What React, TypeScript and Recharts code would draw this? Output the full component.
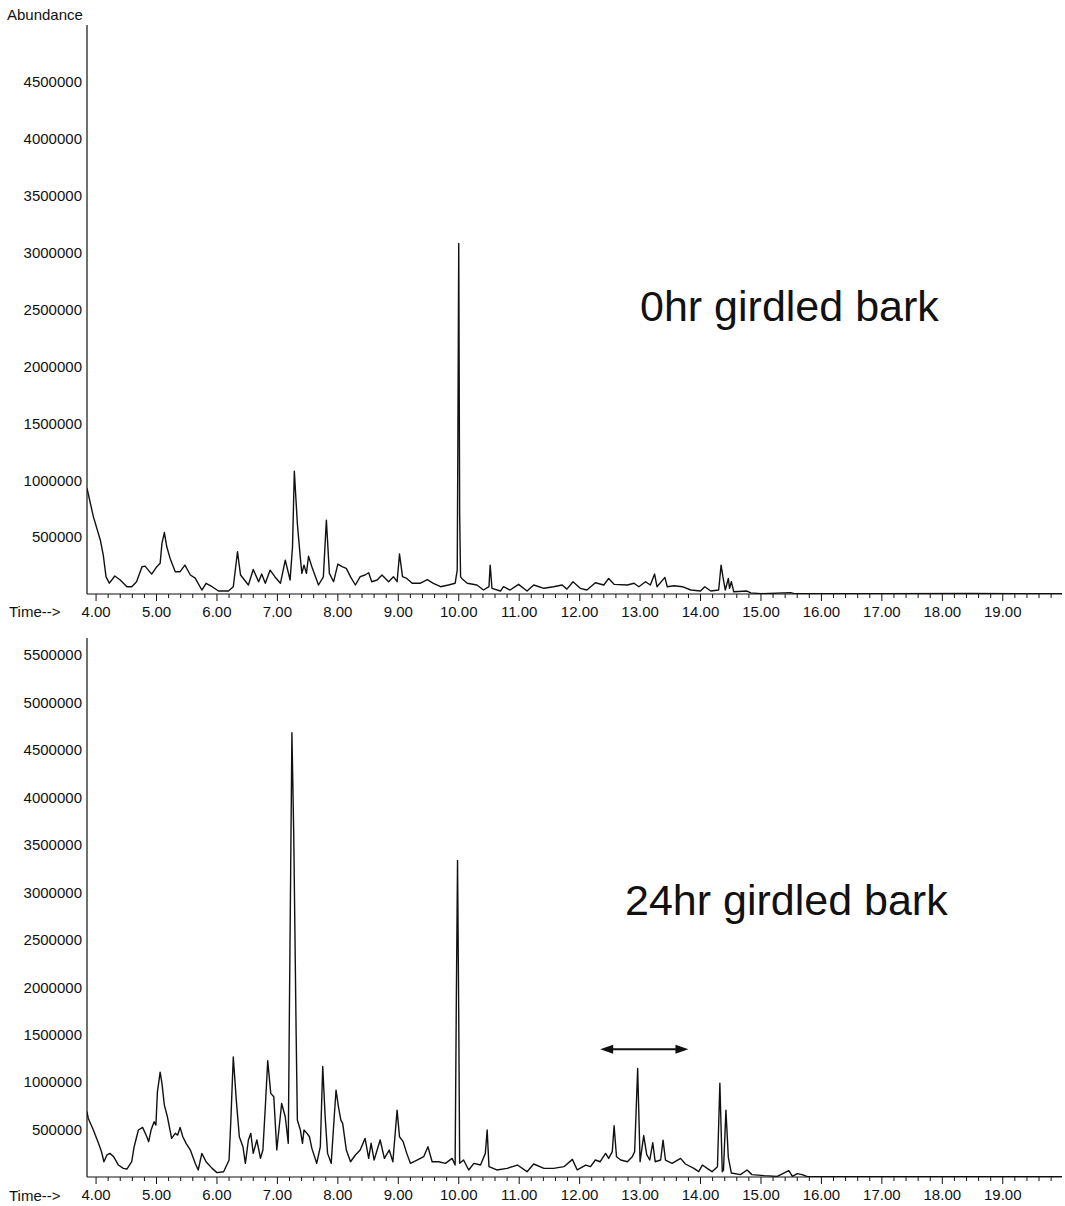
import React from "react";
import { LineChart, Line, XAxis, YAxis, ReferenceLine } from "recharts";

const FONT = '"Liberation Sans", Arial, Helvetica, sans-serif';
const INK = "#111";

// retention time axis
const TIME_DOMAIN: [number, number] = [3.85, 19.98];
const TIME_MAJOR = [4, 5, 6, 7, 8, 9, 10, 11, 12, 13, 14, 15, 16, 17, 18, 19];

// 0hr girdled bark (top panel)
const time0hr = [
  3.85, 3.955, 4.07, 4.12, 4.165, 4.22, 4.31, 4.4, 4.51, 4.59, 4.67, 4.76, 4.81, 4.92, 5.005, 5.06,
  5.09, 5.13, 5.17, 5.225, 5.31, 5.39, 5.47, 5.56, 5.64, 5.75, 5.82, 5.92, 6.025, 6.19, 6.27, 6.34,
  6.39, 6.52, 6.6, 6.69, 6.74, 6.8, 6.88, 6.96, 7.05, 7.13, 7.21, 7.25, 7.28, 7.33, 7.38, 7.405,
  7.44, 7.48, 7.515, 7.57, 7.68, 7.76, 7.81, 7.86, 7.93, 8.0, 8.07, 8.14, 8.21, 8.29, 8.37, 8.45,
  8.51, 8.56, 8.65, 8.73, 8.84, 8.92, 8.98, 9.02, 9.07, 9.14, 9.23, 9.36, 9.48, 9.58, 9.7, 9.83,
  9.94, 9.975, 9.985, 10.0, 10.015, 10.03, 10.05, 10.14, 10.3, 10.41, 10.5, 10.52, 10.55, 10.69,
  10.74, 10.85, 10.99, 11.13, 11.24, 11.41, 11.57, 11.71, 11.79, 11.89, 12.01, 12.12, 12.26, 12.4,
  12.48, 12.57, 12.79, 12.9, 12.98, 13.09, 13.17, 13.24, 13.28, 13.41, 13.45, 13.56, 13.7, 13.84,
  14.0, 14.07, 14.17, 14.3, 14.34, 14.37, 14.41, 14.46, 14.48, 14.51, 14.55, 14.77, 14.83, 15.0,
  15.49, 15.55, 17.0, 18.45, 19.98,
];
const abund0hr = [
  930000, 680000, 475000, 340000, 150000, 95000, 158000, 123000, 64000, 64000, 108000, 240000,
  245000, 175000, 240000, 270000, 445000, 540000, 415000, 313000, 196000, 196000, 254000, 167000,
  140000, 35000, 94000, 64000, 26000, 26000, 64000, 371000, 167000, 79000, 216000, 108000, 175000,
  94000, 210000, 150000, 94000, 298000, 123000, 415000, 1078000, 620000, 313000, 181000, 254000,
  181000, 333000, 240000, 79000, 150000, 649000, 181000, 108000, 263000, 240000, 225000, 150000,
  79000, 152000, 167000, 187000, 108000, 123000, 167000, 108000, 152000, 108000, 351000, 152000,
  137000, 94000, 94000, 126000, 94000, 64000, 79000, 94000, 210000, 1290000, 3080000, 700000,
  152000, 137000, 94000, 79000, 35000, 64000, 254000, 50000, 26000, 64000, 35000, 85000, 26000,
  79000, 50000, 64000, 79000, 43000, 108000, 50000, 35000, 99000, 79000, 137000, 85000, 79000,
  94000, 64000, 108000, 79000, 175000, 64000, 146000, 64000, 73000, 64000, 35000, 26000, 64000,
  26000, 35000, 254000, 152000, 35000, 137000, 50000, 108000, 20000, 26000, 10000, 3000, 12000,
  3000, 2000, 4000, 2000,
];

// 24hr girdled bark (bottom panel)
const time24hr = [
  3.85, 3.87, 3.955, 4.04, 4.09, 4.13, 4.18, 4.23, 4.29, 4.37, 4.45, 4.51, 4.59, 4.63, 4.7, 4.77,
  4.84, 4.87, 4.91, 4.96, 4.99, 5.015, 5.06, 5.09, 5.13, 5.18, 5.25, 5.31, 5.35, 5.39, 5.435, 5.49,
  5.56, 5.64, 5.69, 5.75, 5.82, 5.92, 6.0, 6.11, 6.17, 6.2, 6.23, 6.27, 6.32, 6.37, 6.43, 6.47,
  6.52, 6.56, 6.6, 6.66, 6.72, 6.76, 6.8, 6.84, 6.89, 6.94, 6.99, 7.07, 7.13, 7.18, 7.2, 7.22,
  7.24, 7.27, 7.29, 7.31, 7.33, 7.38, 7.415, 7.44, 7.49, 7.53, 7.57, 7.65, 7.71, 7.75, 7.79, 7.83,
  7.89, 7.94, 7.97, 8.01, 8.05, 8.08, 8.14, 8.21, 8.29, 8.37, 8.45, 8.51, 8.55, 8.6, 8.7, 8.77,
  8.85, 8.91, 8.98, 9.02, 9.08, 9.14, 9.2, 9.31, 9.42, 9.49, 9.56, 9.67, 9.78, 9.89, 9.94, 9.96,
  9.98, 10.0, 10.015, 10.08, 10.165, 10.25, 10.36, 10.44, 10.47, 10.5, 10.63, 10.8, 10.97, 11.13,
  11.24, 11.41, 11.57, 11.74, 11.88, 11.96, 12.1, 12.18, 12.26, 12.34, 12.43, 12.48, 12.54, 12.57,
  12.61, 12.68, 12.79, 12.87, 12.91, 12.96, 13.0, 13.06, 13.11, 13.16, 13.21, 13.25, 13.34, 13.38,
  13.42, 13.53, 13.67, 13.75, 13.89, 13.97, 14.03, 14.11, 14.19, 14.28, 14.32, 14.36, 14.38, 14.42,
  14.46, 14.51, 14.66, 14.77, 14.85, 15.05, 15.27, 15.46, 15.52, 15.6, 15.68, 15.77, 16.5, 18.0,
  19.98,
];
const abund24hr = [
  690000, 620000, 495000, 355000, 266000, 161000, 232000, 249000, 214000, 126000, 91000, 84000,
  161000, 319000, 495000, 523000, 424000, 372000, 495000, 582000, 547000, 898000, 1105000, 986000,
  758000, 635000, 407000, 460000, 442000, 523000, 424000, 355000, 284000, 144000, 74000, 249000,
  161000, 91000, 46000, 56000, 137000, 179000, 600000, 1265000, 810000, 424000, 319000, 144000,
  390000, 460000, 249000, 390000, 196000, 284000, 740000, 1225000, 881000, 846000, 284000, 775000,
  635000, 355000, 1863000, 3266000, 4681000, 3618000, 2565000, 1513000, 600000, 495000, 355000,
  495000, 460000, 424000, 302000, 144000, 319000, 1165000, 635000, 249000, 144000, 635000, 916000,
  740000, 600000, 565000, 284000, 161000, 232000, 284000, 407000, 196000, 355000, 179000, 390000,
  196000, 284000, 161000, 705000, 424000, 372000, 249000, 144000, 179000, 214000, 319000, 161000,
  161000, 144000, 196000, 126000, 1863000, 3337000, 1688000, 144000, 179000, 74000, 144000, 126000,
  249000, 495000, 109000, 74000, 91000, 126000, 56000, 137000, 91000, 91000, 109000, 186000, 74000,
  126000, 109000, 179000, 161000, 249000, 196000, 267000, 540000, 214000, 179000, 161000, 214000,
  267000, 1144000, 161000, 437000, 235000, 179000, 361000, 161000, 179000, 389000, 179000, 144000,
  196000, 137000, 91000, 56000, 126000, 91000, 56000, 109000, 988000, 56000, 74000, 705000, 206000,
  42000, 25000, 74000, 25000, 14000, 7000, 67000, 7000, 35000, 25000, 3000, 4000, 2000, 2000,
];

const yTicks0hr = [500000, 1000000, 1500000, 2000000, 2500000, 3000000, 3500000, 4000000, 4500000];
const yTicks24hr = [
  500000, 1000000, 1500000, 2000000, 2500000, 3000000, 3500000, 4000000, 4500000, 5000000, 5500000,
];
const yMax0hr = 5000000;
const yMax24hr = 5680000;

const panelTitles = ["0hr girdled bark", "24hr girdled bark"];

// double arrow marking a region in the 24hr trace
const arrowTimes = [12.34, 13.8];
const arrowLevel = 1347000;

// minor ticks every 0.2 min
const minorTicks: number[] = [];
TIME_MAJOR.forEach((m) => {
  [0, 0.2, 0.4, 0.6, 0.8].forEach((d) => minorTicks.push(Math.round((m + d) * 10) / 10));
});
const allTicks = [3.8, ...minorTicks].filter((t) => t >= TIME_DOMAIN[0] && t <= TIME_DOMAIN[1]);

const toRows = (times: number[], values: number[]) =>
  times.map((t, i) => ({ time: t, abundance: values[i] }));

const TimeTick = (props: any) => {
  const { x, y, payload } = props;
  const v = payload.value as number;
  const major = Math.abs(v - Math.round(v)) < 1e-6;
  return (
    <g>
      <line x1={x} y1={y} x2={x} y2={y + (major ? 7 : 4)} stroke={INK} strokeWidth={1} />
      {major && (
        <text x={x} y={y + 23} textAnchor="middle" fontSize={15} fontFamily={FONT} fill={INK}>
          {v.toFixed(2)}
        </text>
      )}
    </g>
  );
};

const DoubleArrow = (props: any) => {
  const { x1, y1, x2, y2 } = props;
  const head = 13;
  const half = 4.5;
  return (
    <g>
      <line x1={x1 + head - 2} y1={y1} x2={x2 - head + 2} y2={y2} stroke={INK} strokeWidth={2} />
      <polygon points={`${x1},${y1} ${x1 + head},${y1 - half} ${x1 + head},${y1 + half}`} fill={INK} />
      <polygon points={`${x2},${y2} ${x2 - head},${y2 - half} ${x2 - head},${y2 + half}`} fill={INK} />
    </g>
  );
};

interface PanelProps {
  rows: { time: number; abundance: number }[];
  yTicks: number[];
  yMax: number;
  height: number;
  top: number;
  xAxisHeight: number;
  children?: React.ReactNode;
}

const Panel: React.FC<PanelProps> = ({ rows, yTicks, yMax, height, top, xAxisHeight, children }) => (
  <LineChart
    width={1065}
    height={height}
    data={rows}
    margin={{ top, right: 3, left: 7, bottom: 0 }}
  >
    <XAxis
      dataKey="time"
      type="number"
      domain={TIME_DOMAIN}
      ticks={allTicks}
      interval={0}
      tickLine={false}
      tickSize={0}
      tickMargin={0}
      height={xAxisHeight}
      axisLine={{ stroke: INK, strokeWidth: 1.2 }}
      tick={<TimeTick />}
      allowDataOverflow
    />
    <YAxis
      type="number"
      domain={[0, yMax]}
      ticks={yTicks}
      interval={0}
      width={80}
      tickLine={false}
      tickSize={0}
      tickMargin={5}
      axisLine={{ stroke: INK, strokeWidth: 1.2 }}
      tick={{ fontSize: 15, fontFamily: FONT, fill: INK }}
      allowDataOverflow
    />
    <Line
      type="linear"
      dataKey="abundance"
      stroke={INK}
      strokeWidth={1.4}
      strokeLinejoin="round"
      dot={false}
      isAnimationActive={false}
    />
    {children}
  </LineChart>
);

export default function App() {
  return (
    <div
      style={{
        position: "absolute",
        left: 0,
        top: 0,
        width: 1065,
        height: 1206,
        background: "#fff",
        fontFamily: FONT,
      }}
    >
      <div style={{ position: "absolute", left: 0, top: 0 }}>
        <Panel
          rows={toRows(time0hr, abund0hr)}
          yTicks={yTicks0hr}
          yMax={yMax0hr}
          height={620}
          top={25}
          xAxisHeight={26}
        />
      </div>
      <div style={{ position: "absolute", left: 0, top: 620 }}>
        <Panel
          rows={toRows(time24hr, abund24hr)}
          yTicks={yTicks24hr}
          yMax={yMax24hr}
          height={586}
          top={18}
          xAxisHeight={29}
        >
          <ReferenceLine
            segment={[
              { x: arrowTimes[0], y: arrowLevel },
              { x: arrowTimes[1], y: arrowLevel },
            ]}
            shape={<DoubleArrow />}
          />
        </Panel>
      </div>
      <svg
        width={1065}
        height={1206}
        style={{ position: "absolute", left: 0, top: 0, pointerEvents: "none" }}
      >
        <text x={7} y={20} fontSize={15} fontFamily={FONT} fill={INK}>
          Abundance
        </text>
        <text x={9} y={617} fontSize={15} fontFamily={FONT} fill={INK}>
          {"Time-->"}
        </text>
        <text x={9} y={1201} fontSize={15} fontFamily={FONT} fill={INK}>
          {"Time-->"}
        </text>
        <text x={640} y={321} fontSize={43} fontFamily={FONT} fill={INK}>
          {panelTitles[0]}
        </text>
        <text x={625} y={915} fontSize={43} fontFamily={FONT} fill={INK}>
          {panelTitles[1]}
        </text>
      </svg>
    </div>
  );
}
